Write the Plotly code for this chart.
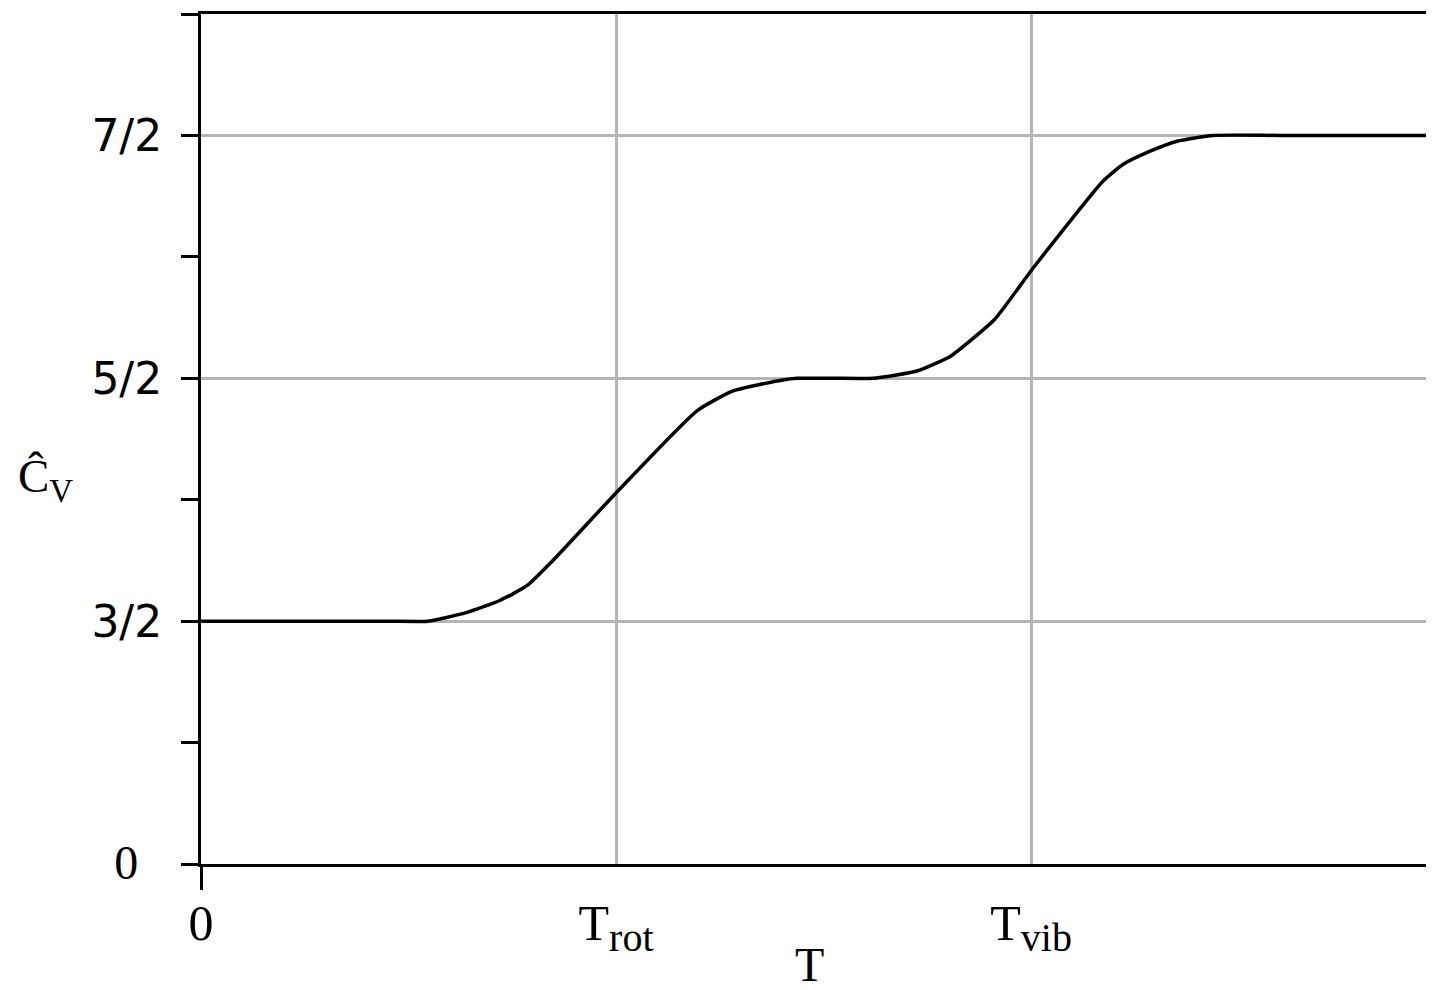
import plotly.graph_objects as go

# Temperature in units where T_rot = 1, T_vib = 2 (schematic axis)
T = [0, 0.45, 0.547, 0.641, 0.720, 0.786, 0.848, 1.005, 1.195, 1.282, 1.402, 1.436,
     1.53, 1.619, 1.725, 1.805, 1.853, 1.913, 2.005, 2.173, 2.222, 2.287, 2.352, 2.439,
     2.6, 2.99]
# Heat capacity expressed as level index on the schematic axis (0 -> 0, 1 -> 3/2, 2 -> 5/2, 3 -> 7/2)
cv_level = [1.0, 1.0, 1.0, 1.036, 1.085, 1.147, 1.250, 1.537, 1.866, 1.948, 1.993, 2.0,
            2.0, 2.0, 2.03, 2.09, 2.154, 2.244, 2.454, 2.811, 2.881, 2.935, 2.976, 3.0,
            3.0, 3.0]

x_tickvals = [0, 1, 2]
x_ticktext = ["0",
              'T<sub><span style="font-size:40px">rot</span></sub>',
              'T<sub><span style="font-size:40px">vib</span></sub>']
y_tickvals = [0, 1, 2, 3, 3.5]
y_ticktext = ['<span style="font-family:Liberation Serif;font-size:48px">0\u00a0\u00a0</span>',
              "3/2", "5/2", "7/2", ""]
y_minor = [0.5, 1.5, 2.5]

fig = go.Figure()
fig.add_trace(go.Scatter(x=T, y=cv_level, mode="lines",
                         line=dict(color="black", width=3.5, shape="spline", smoothing=0.5),
                         showlegend=False))

grid = "#b5b5b5"
fig.update_layout(
    width=1434, height=982,
    margin=dict(l=193, r=0, t=6, b=126),
    paper_bgcolor="white", plot_bgcolor="white",
    xaxis=dict(range=[0, 2.99], tickvals=x_tickvals, ticktext=x_ticktext,
               ticks="", showline=True, linecolor="black", linewidth=3, mirror=True,
               showgrid=True, gridcolor=grid, gridwidth=2.5, zeroline=False,
               automargin=False, ticklabelstandoff=13,
               tickfont=dict(family="Liberation Serif", size=50, color="black"),
               minor=dict(tickmode="array", tickvals=[0], ticks="outside", ticklen=23,
                          tickwidth=3, tickcolor="black", showgrid=False)),
    yaxis=dict(range=[0, 3.5], tickvals=y_tickvals, ticktext=y_ticktext,
               ticks="outside", ticklen=17, tickwidth=3, tickcolor="black",
               showline=True, linecolor="black", linewidth=3,
               showgrid=True, gridcolor=grid, gridwidth=2.5, zeroline=False,
               automargin=False, ticklabelstandoff=10,
               tickfont=dict(family="DejaVu Sans", size=44, color="black"),
               minor=dict(tickmode="array", tickvals=y_minor, ticks="outside", ticklen=17,
                          tickwidth=3, tickcolor="black", showgrid=False)),
    annotations=[
        dict(text="Ĉ<sub>V</sub>", xref="paper", yref="paper", x=-0.125, y=0.452,
             xanchor="center", yanchor="middle",
             showarrow=False, font=dict(family="Liberation Serif", size=47, color="black")),
        dict(text="T", xref="paper", yref="paper", x=0.49, y=-0.118,
             xanchor="center", yanchor="middle",
             showarrow=False, font=dict(family="Liberation Serif", size=48, color="black")),
    ],
)

fig.write_html("out.html")
